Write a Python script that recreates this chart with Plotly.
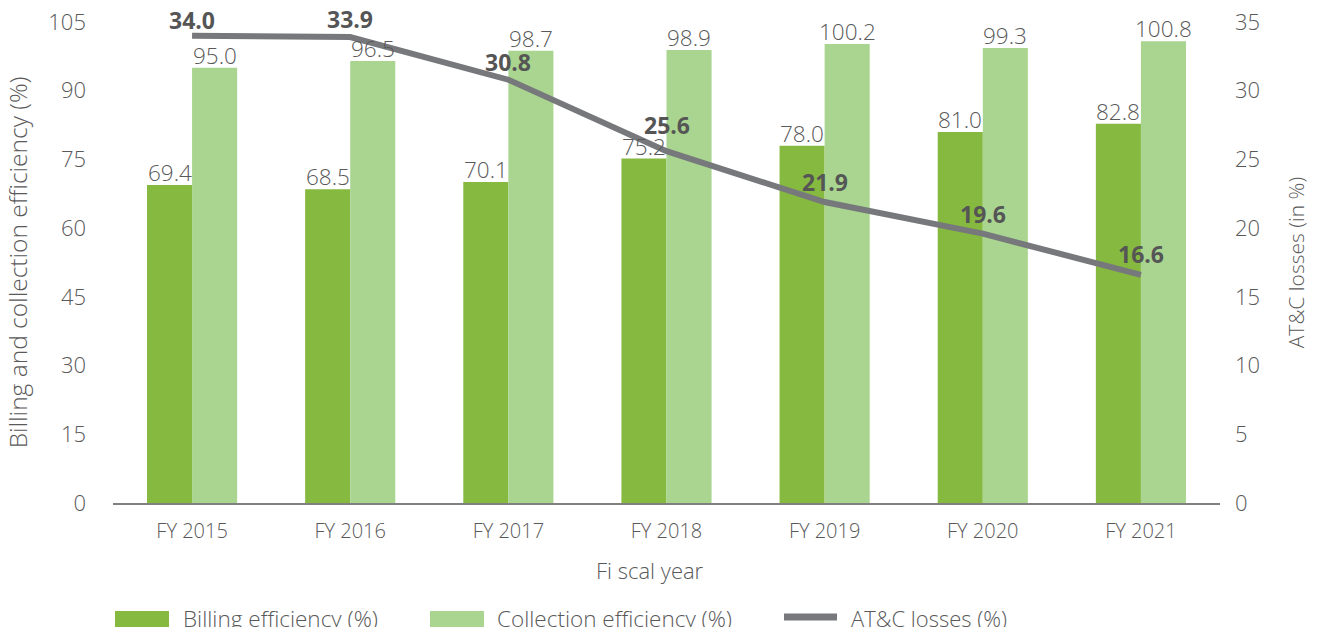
import plotly.graph_objects as go

# Fiscal years and efficiency / loss indicators
years = ["FY 2015", "FY 2016", "FY 2017", "FY 2018", "FY 2019", "FY 2020", "FY 2021"]
billing_eff = [69.4, 68.5, 70.1, 75.2, 78.0, 81.0, 82.8]
collection_eff = [95.0, 96.5, 98.7, 98.9, 100.2, 99.3, 100.8]
atc_losses = [34.0, 33.9, 30.8, 25.6, 21.9, 19.6, 16.6]

left_ticks = [0, 15, 30, 45, 60, 75, 90, 105]
right_ticks = [0, 5, 10, 15, 20, 25, 30, 35]

# vertical lift (px) of each AT&C value label above its point
label_lift = [16, 18, 18, 26, 20, 20, 21]

FONT = "Open Sans"
TXT = "#595959"
DARK_GREEN = "#86b93f"
LIGHT_GREEN = "#a9d590"
LINE_GREY = "#77787b"

W, H = 1317, 627
ML, MR, MT, MB = 113, 97, 22, 124
PW, PH = W - ML - MR, H - MT - MB
BARGAP = 0.43
# horizontal distance from category centre to each bar centre in a group of two
BAR_OFFSET = PW / len(years) * (1 - BARGAP) / 4


def px_x(p):
    return (p - ML) / PW


def px_y(p):
    return (H - MB - p) / PH


def font(size=20, color=TXT, weight=300):
    return dict(family=FONT, size=size, color=color, weight=weight)


fig = go.Figure()

fig.add_trace(go.Bar(
    x=years, y=billing_eff, name="Billing efficiency (%)",
    marker=dict(color=DARK_GREEN, line=dict(width=0)),
    showlegend=False,
))
fig.add_trace(go.Bar(
    x=years, y=collection_eff, name="Collection efficiency (%)",
    marker=dict(color=LIGHT_GREEN, line=dict(width=0)),
    showlegend=False,
))
fig.add_trace(go.Scatter(
    x=years, y=atc_losses, name="AT&C losses (%)", yaxis="y2",
    mode="lines", line=dict(color=LINE_GREY, width=6),
    cliponaxis=False, showlegend=False,
))

annotations = []
# value labels resting on top of each bar
for values, shift in ((billing_eff, -BAR_OFFSET), (collection_eff, BAR_OFFSET)):
    for yr, v in zip(years, values):
        annotations.append(dict(
            x=yr, y=v, xref="x", yref="y", text=f"{v:.1f}",
            showarrow=False, yanchor="bottom", xanchor="center",
            xshift=shift, yshift=-5, font=font(22.5),
        ))

# AT&C loss value labels sitting just above each point
for yr, v, lift in zip(years, atc_losses, label_lift):
    annotations.append(dict(
        x=yr, y=v, xref="x", yref="y2", text=f"<b>{v:.1f}</b>",
        showarrow=False, yanchor="middle", yshift=lift,
        font=font(23, color="#555555", weight=700),
    ))

# Legend row below the axis title
legend_items = [
    ("Billing efficiency (%)", DARK_GREEN, "bar", 115, 169, 181, 22.5),
    ("Collection efficiency (%)", LIGHT_GREEN, "bar", 430, 484, 495, 22.5),
    ("AT&C losses (%)", LINE_GREY, "line", 781, 840, 849, 22),
]
shapes = []
ly = 618
for label, color, kind, x0, x1, tx, fs in legend_items:
    if kind == "bar":
        shapes.append(dict(type="rect", xref="paper", yref="paper",
                           x0=px_x(x0), x1=px_x(x1), y0=px_y(ly + 9), y1=px_y(ly - 7),
                           fillcolor=color, line=dict(width=0)))
    else:
        shapes.append(dict(type="line", xref="paper", yref="paper",
                           x0=px_x(x0 + 3), x1=px_x(x1 - 3), y0=px_y(ly - 1), y1=px_y(ly - 1),
                           line=dict(color=color, width=7)))
    annotations.append(dict(text=label, xref="paper", yref="paper",
                            x=px_x(tx), y=px_y(ly), xanchor="left", yanchor="middle",
                            showarrow=False, font=font(fs)))

annotations.append(dict(text="Fi scal year", xref="paper", yref="paper",
                        x=px_x(650), y=px_y(570), xanchor="center", yanchor="middle",
                        showarrow=False, font=font(22)))

fig.update_layout(
    width=W, height=H,
    margin=dict(l=ML, r=MR, t=MT, b=MB, autoexpand=False),
    paper_bgcolor="white", plot_bgcolor="white",
    barmode="group", bargap=BARGAP, bargroupgap=0,
    font=font(),
    showlegend=False,
    shapes=shapes, annotations=annotations,
    xaxis=dict(
        showline=True, linecolor="#808080", linewidth=2, automargin=False,
        showgrid=False, ticks="", ticklabelstandoff=9,
        tickfont=font(20),
    ),
    yaxis=dict(
        range=[0, 105], tickvals=left_ticks, showgrid=False, zeroline=False,
        showline=False, ticks="", ticklabelstandoff=26, automargin=False,
        tickfont=font(22),
        title=dict(text="Billing and collection efficiency (%)", standoff=13,
                   font=font(24.5)),
    ),
    yaxis2=dict(
        range=[0, 35], tickvals=right_ticks, overlaying="y", side="right",
        showgrid=False, zeroline=False, showline=False, ticks="",
        ticklabelstandoff=14, automargin=False,
        tickfont=font(22),
        title=dict(text="AT&C losses (in %)", standoff=30,
                   font=font(21)),
    ),
)

fig.write_html("out.html")
